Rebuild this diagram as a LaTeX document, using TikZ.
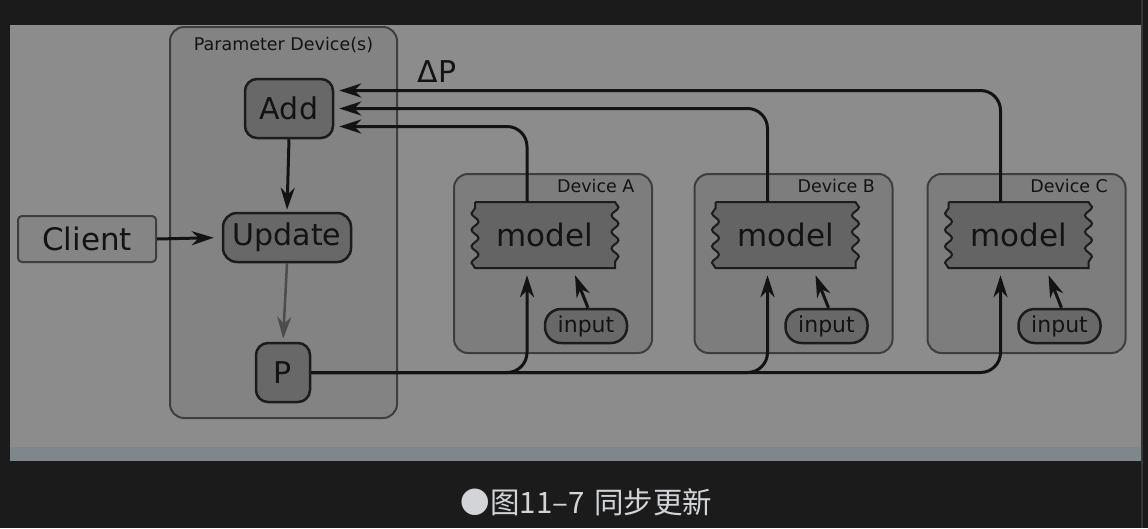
\documentclass[tikz,border=0pt]{standalone}
\usepackage{fontspec}
\setmainfont{DejaVu Sans}
\newfontfamily\cjk{Noto Sans CJK SC}
\usetikzlibrary{arrows.meta,decorations.pathmorphing,calc}

\definecolor{pagebg}{HTML}{1B1B1B}
\definecolor{edgeline}{HTML}{363636}
\definecolor{panel}{HTML}{8C8C8C}
\definecolor{strip}{HTML}{7E878C}
\definecolor{groupfill}{HTML}{838383}
\definecolor{groupline}{HTML}{3E3E3E}
\definecolor{devfill}{HTML}{7D7D7D}
\definecolor{opfill}{HTML}{686868}
\definecolor{modelfill}{HTML}{646464}
\definecolor{opline}{HTML}{1C1C1C}
\definecolor{clientfill}{HTML}{858585}
\definecolor{ink}{HTML}{131313}
\definecolor{softink}{HTML}{4C4C4C}
\definecolor{captext}{HTML}{D2D4D8}

\tikzset{
  group/.style={draw=groupline, fill=groupfill, line width=2pt, rounded corners=14pt},
  device/.style={draw=groupline, fill=devfill, line width=2pt, rounded corners=14pt,
    minimum width=198pt, minimum height=179pt},
  op/.style={draw=opline, fill=opfill, line width=2.5pt, rounded corners=12pt,
    text=ink, font=\fontsize{30}{36}\selectfont, inner sep=0pt},
  client/.style={draw=groupline, fill=clientfill, line width=2pt, rounded corners=4pt,
    text=ink, font=\fontsize{31}{36}\selectfont, minimum width=138pt, minimum height=46pt},
  inbox/.style={draw=opline, fill=opfill, line width=2.5pt, rounded corners=16pt,
    text=ink, font=\fontsize{22}{26}\selectfont, minimum width=82pt, minimum height=34pt, inner sep=0pt},
  modeltext/.style={text=ink, font=\fontsize{31}{36}\selectfont,
    minimum width=140pt, minimum height=66pt, inner sep=0pt},
  modelline/.style={draw=opline, fill=modelfill, line width=2pt,
    decoration={snake, segment length=16.5pt, amplitude=3.5pt}},
  flow/.style={->, line width=3pt, draw=ink},
  small/.style={text=ink, font=\fontsize{17.5}{21}\selectfont},
}

% wavy model body round a centre
\newcommand{\modelbody}[1]{%
  \filldraw[modelline] ($(#1)+(-70,-33)$) -- ($(#1)+(70,-33)$)
    decorate {-- ($(#1)+(70,33)$)} -- ($(#1)+(-70,33)$)
    decorate {-- ($(#1)+(-70,-33)$)} -- cycle;}

\begin{document}
\begin{tikzpicture}[x=1pt, y=-1pt, >={Stealth[length=22pt,width=14pt,inset=7pt]}]
  \useasboundingbox (0,0) rectangle (1148,528);

  % page
  \fill[pagebg] (0,0) rectangle (1148,528);
  \fill[edgeline] (1141,0) rectangle (1143,528);
  \fill[panel] (10,25) rectangle (1141,447);
  \fill[strip] (10,447) rectangle (1141,461);

  % parameter device
  \node[group, minimum width=227pt, minimum height=391pt] (param) at (283.5,222.5) {};
  \node[small] (paramlabel) at ($(param.north)+(0,19)$) {Parameter Device(s)};

  \node[op, minimum width=88pt, minimum height=59pt] (Add) at (289,108.5) {Add};
  \node[op, minimum width=128pt, minimum height=49pt, rounded corners=14pt] (Update) at (287,237.5) {Update};
  \node[op, minimum width=54pt, minimum height=59pt] (P) at (283,372.5) {P};
  \node[client] (Client) at (87,239) {Client};
  \node[text=ink, font=\fontsize{30}{36}\selectfont] (dP) at (437,72) {ΔP};

  \draw[flow, shorten >=2pt] (Add.south) -- (Update.north);
  \draw[flow, draw=softink, line width=2.5pt, shorten >=3pt] (Update.south) -- (P.north);
  \draw[flow, shorten >=8pt] (Client.east) -- (Update.west);

  % worker devices
  \foreach \dev/\x/\dy in {A/553/18, B/793.5/0, C/1026.5/-18} {
    \node[device] (dev\dev) at (\x,263.5) {};
    \node[small, anchor=east] (lab\dev) at ($(dev\dev.north east)+(-15,13)$) {Device \dev};
    \coordinate (m\dev) at (\x-8,235);
    \modelbody{m\dev}
    \node[modeltext] (model\dev) at (m\dev) {model};
    \node[inbox] (input\dev) at (\x+33,326) {input};

    \draw[flow] ($(input\dev.north)+(2,0)$) -- ($(model\dev.south)+(30,7)$);
    \draw[flow, rounded corners=20pt] (P.east) -| ($(model\dev.south)+(-18,7)$);
    \draw[flow, rounded corners=20pt] ($(model\dev.north)+(-18,0)$) |- ($(Add.east)+(5,\dy)$);
  }

  % caption
  \node[text=captext, font=\cjk\fontsize{29.5}{34}\selectfont] (caption) at (586.5,502) {●图11–7\hspace{3pt} 同步更新};
\end{tikzpicture}
\end{document}
